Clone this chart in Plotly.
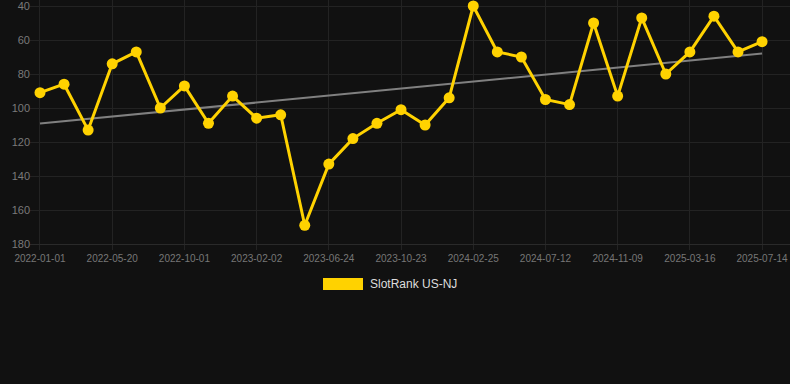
import numpy as np
import plotly.graph_objects as go

dates = [
    "2022-01-01", "2022-02-16", "2022-04-04", "2022-05-20", "2022-07-03", "2022-08-17",
    "2022-10-01", "2022-11-11", "2022-12-22", "2023-02-02", "2023-03-21", "2023-05-08",
    "2023-06-24", "2023-08-03", "2023-09-13", "2023-10-23", "2023-12-03", "2024-01-14",
    "2024-02-25", "2024-04-10", "2024-05-27", "2024-07-12", "2024-08-21", "2024-09-30",
    "2024-11-09", "2024-12-18", "2025-02-05", "2025-03-16", "2025-04-28", "2025-06-01",
    "2025-07-14",
]
ranks = [91, 86, 113, 74, 67, 100, 87, 109, 93, 106, 104, 169, 133, 118, 109, 101,
         110, 94, 40, 67, 70, 95, 98, 50, 93, 47, 80, 67, 46, 67, 61]
tick_labels = dates[::3]
y_ticks = [40, 60, 80, 100, 120, 140, 160, 180]
series_name = "SlotRank US-NJ"

idx = np.arange(len(ranks))
slope, intercept = np.polyfit(idx, ranks, 1)
trend = slope * idx + intercept

YELLOW = "#FFD200"
BG = "#111111"
GRID = "#232323"

fig = go.Figure()
fig.add_trace(go.Scatter(
    x=dates, y=trend, mode="lines",
    line=dict(color="#808080", width=2),
    showlegend=False, hoverinfo="skip",
))
fig.add_trace(go.Scatter(
    x=dates, y=ranks, mode="lines+markers", name=series_name,
    line=dict(color=YELLOW, width=3),
    marker=dict(color=YELLOW, size=11),
    showlegend=False,
))

fig.update_layout(
    width=790, height=384,
    paper_bgcolor=BG, plot_bgcolor=BG,
    margin=dict(l=30, r=0, t=0, b=140),
    font=dict(family="Liberation Sans, Arial, sans-serif"),
    showlegend=False,
    xaxis=dict(
        type="category",
        categoryorder="array", categoryarray=dates,
        range=[-0.415, 31.16],
        tickmode="array", tickvals=tick_labels, ticktext=tick_labels,
        showgrid=True, gridcolor=GRID, gridwidth=1,
        ticks="outside", ticklen=5, tickcolor=GRID,
        showline=True, linecolor="#2a2a2a", linewidth=1,
        tickfont=dict(size=10, color="#777777"),
        zeroline=False,
        ticklabeloverflow="allow",
    ),
    yaxis=dict(
        range=[180, 36.47],
        tickmode="array", tickvals=y_ticks,
        showgrid=True, gridcolor=GRID, gridwidth=1,
        tickfont=dict(size=11, color="#7a7a7a"),
        zeroline=False, showline=False,
        ticklabelstandoff=-1,
        ticklabeloverflow="allow",
    ),
    shapes=[dict(
        type="rect", xref="paper", yref="paper",
        x0=(323 - 30) / 760, x1=(363 - 30) / 760,
        y0=(384 - 140 - 290) / 244, y1=(384 - 140 - 278) / 244,
        fillcolor=YELLOW, line=dict(width=0),
    )],
    annotations=[dict(
        text=series_name, xref="paper", yref="paper",
        x=(368 - 30) / 760, y=(384 - 140 - 284) / 244,
        xanchor="left", yanchor="middle", showarrow=False,
        font=dict(size=12, color="#dddddd"),
    )],
)

fig.write_html(
    "out.html",
    config={"displayModeBar": False},
    post_script="document.body.style.margin='0';document.body.style.background='#111111';",
)
